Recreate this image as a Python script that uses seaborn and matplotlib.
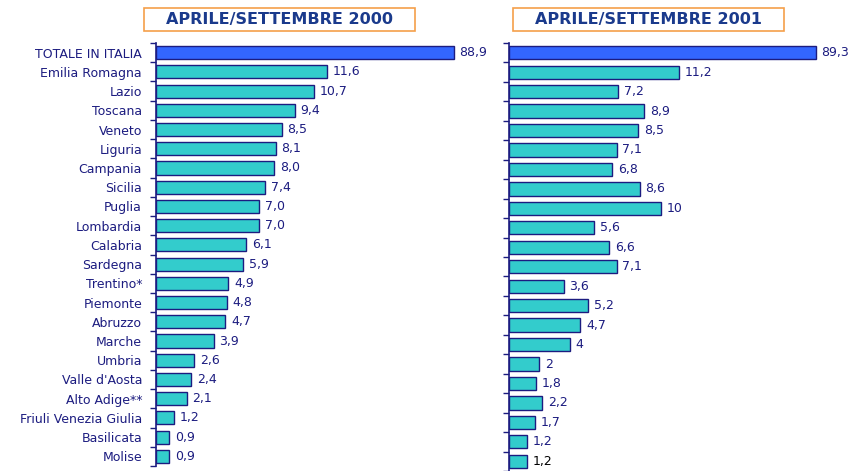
import seaborn as sns
import pandas as pd
import matplotlib.pyplot as plt
from matplotlib.patches import Rectangle

total_label = "TOTALE IN ITALIA"
regioni = ["Emilia Romagna", "Lazio", "Toscana", "Veneto", "Liguria", "Campania",
           "Sicilia", "Puglia", "Lombardia", "Calabria", "Sardegna", "Trentino*",
           "Piemonte", "Abruzzo", "Marche", "Umbria", "Valle d'Aosta", "Alto Adige**",
           "Friuli Venezia Giulia", "Basilicata", "Molise"]
totale_2000 = 88.9
totale_2001 = 89.3
valori_2000 = [11.6, 10.7, 9.4, 8.5, 8.1, 8.0, 7.4, 7.0, 7.0, 6.1, 5.9, 4.9,
               4.8, 4.7, 3.9, 2.6, 2.4, 2.1, 1.2, 0.9, 0.9]
valori_2001 = [11.2, 7.2, 8.9, 8.5, 7.1, 6.8, 8.6, 10, 5.6, 6.6, 7.1, 3.6,
               5.2, 4.7, 4, 2, 1.8, 2.2, 1.7, 1.2, 1.2]
titoli = ["APRILE/SETTEMBRE 2000", "APRILE/SETTEMBRE 2001"]

NAVY = "#1c1c80"
TEAL = "#33cccc"
BLUE = "#3366ff"
order = [total_label] + regioni

fig = plt.figure(figsize=(8.51, 4.71), dpi=100)
ax1 = fig.add_axes([156 / 851, 5 / 471, 300 / 851, 423 / 471])
ax2 = fig.add_axes([509 / 851, 0, 320 / 851, 428 / 471])


def fmt_2000(v):
    return f"{v:.1f}".replace(".", ",")


def fmt_2001(v):
    return f"{v:g}".replace(".", ",")


def pannello(ax, valori, totale, xmax, xmax_tot, fmt, show_labels):
    df = pd.DataFrame({"regione": regioni, "valore": valori})
    sns.barplot(data=df, y="regione", x="valore", order=order, ax=ax,
                color=TEAL, edgecolor=NAVY, linewidth=1, width=0.68,
                saturation=1)
    # total on its own scale
    axt = ax.twiny()
    dft = pd.DataFrame({"regione": [total_label], "valore": [totale]})
    sns.barplot(data=dft, y="regione", x="valore", order=order, ax=axt,
                color=BLUE, edgecolor=NAVY, linewidth=1, width=0.68,
                saturation=1)
    ax.set_xlim(0, xmax)
    axt.set_xlim(0, xmax_tot)
    ax.set_ylim(len(order) - 0.5, -0.5)

    labs = ax.bar_label(ax.containers[0], labels=[fmt(v) for v in valori],
                        padding=4, color=NAVY, fontsize=9)
    axt.bar_label(axt.containers[0], labels=[fmt(totale)], padding=4,
                  color=NAVY, fontsize=9)

    for a in (ax, axt):
        for s in ("top", "right", "bottom"):
            a.spines[s].set_visible(False)
        a.set_xlabel("")
        a.set_ylabel("")
        a.set_xticks([])
    axt.spines["left"].set_visible(False)
    ax.spines["left"].set_color(NAVY)
    ax.spines["left"].set_linewidth(1.2)

    ax.set_yticks(range(len(order)))
    ax.set_yticks([i + 0.5 for i in range(-1, len(order))], minor=True)
    ax.tick_params(axis="y", which="major", length=0, pad=10)
    ax.tick_params(axis="y", which="minor", length=4, width=1, color=NAVY)
    if show_labels:
        ax.set_yticklabels(order, fontsize=9, color=NAVY)
    else:
        ax.set_yticklabels([])
    return labs


pannello(ax1, valori_2000, totale_2000, 300 / 14.78, 88.9 * 300 / 298,
         fmt_2000, True)
labs = pannello(ax2, valori_2001, totale_2001, 320 / 15.2, 89.3 * 320 / 307,
                fmt_2001, False)
labs[-1].set_color("black")

# title boxes
for (x0, titolo) in zip([144, 513], titoli):
    fig.add_artist(Rectangle((x0 / 851, 1 - 31 / 471), 271 / 851, 23 / 471,
                             transform=fig.transFigure, facecolor="white",
                             edgecolor="#f5a04a", linewidth=1.2))
    fig.text((x0 + 135.5) / 851, 1 - 19.5 / 471, titolo, ha="center",
             va="center", fontsize=11.5, fontweight="bold", color="#1a3a8c")

fig.savefig("out.png", dpi=100)
